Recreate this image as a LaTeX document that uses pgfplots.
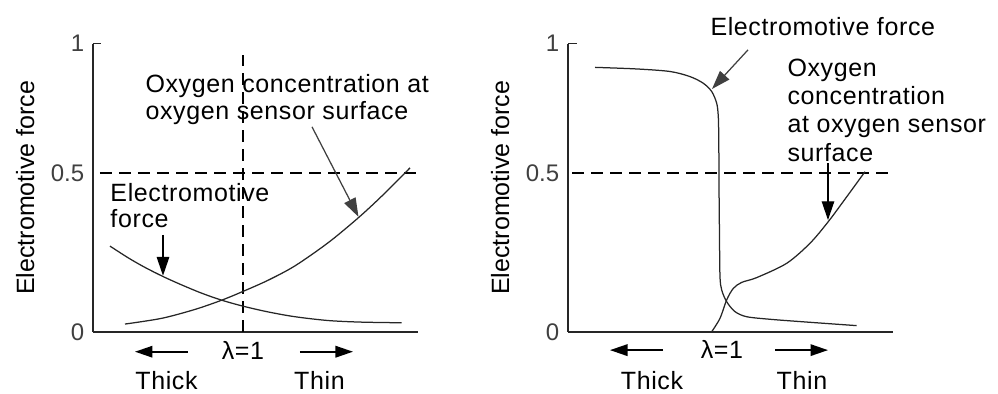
\documentclass[border=0pt]{standalone}
\usepackage{fontspec}
\setmainfont{Liberation Sans}
\usepackage{pgfplots}
\pgfplotsset{compat=1.18}
\usetikzlibrary{arrows.meta}

\newcommand{\txt}{\fontsize{10pt}{12pt}\selectfont\addfontfeature{LetterSpace=2.5}}

\pgfplotsset{
  panel/.style={
    scale only axis, width=130pt, height=115.4pt,
    xmin=0, xmax=325, ymin=0, ymax=0.907,
    axis x line*=bottom, axis y line*=left,
    axis line style={line width=0.5pt, black!85},
    xtick=\empty,
    ytick={0.907}, yticklabels={1},
    extra y ticks={0,0.5}, extra y tick labels={0,0.5},
    extra y tick style={major tick length=0pt},
    tick align=inside, major tick length=3.4pt,
    tick style={line width=0.5pt, black!85},
    clip=false,
    /pgf/number format/assume math mode=true,
    ticklabel style={font=\fontsize{9.6pt}{11pt}\selectfont, text=black!75},
    ylabel={Electromotive force},
    ylabel style={at={(axis description cs:-0.209,0.5)}, anchor=center,
      font=\fontsize{10pt}{12pt}\selectfont},
  },
  curve/.style={line width=0.5pt, black!85, smooth, tension=0.5, mark=none},
  dash/.style={line width=0.5pt, black, dash pattern=on 4.8pt off 2.8pt, mark=none},
}
\tikzset{
  ann/.style={line width=0.5pt, black!75, -{Triangle[length=7.5pt,width=5pt]}},
  dir/.style={line width=0.7pt, black, -{Triangle[length=7pt,width=4.6pt]}},
  lab/.style={anchor=base west, inner sep=0pt, font=\txt},
  cen/.style={anchor=base, inner sep=0pt, font=\txt},
}

\begin{document}
\begin{tikzpicture}
\useasboundingbox (0,0) rectangle (399.2pt,157.6pt);

% ---------------- Left panel ----------------
\begin{axis}[panel, at={(37.2pt,24.8pt)}, anchor=south west]
  % reference dashed lines
  \addplot[dash] coordinates {(7,0.5) (325,0.5)};
  \addplot[dash] coordinates {(150,0) (150,0.871)};
  % electromotive force
  \addplot[curve] coordinates {
    (17,0.270) (35.3,0.233) (52,0.203) (70.3,0.174) (88.7,0.148)
    (108.7,0.122) (128.7,0.100) (150.3,0.081) (175.3,0.063) (202,0.048)
    (235.3,0.036) (268.7,0.031) (308.7,0.029)};
  % oxygen concentration at sensor surface
  \addplot[curve] coordinates {
    (32,0.025) (68.7,0.043) (102,0.071) (128.7,0.100) (150.3,0.128)
    (175.3,0.163) (202,0.208) (235.3,0.281) (265.3,0.359) (288.7,0.427)
    (317,0.516)};
  % annotations
  \node[lab] at (axis cs:52,0.752) {Oxygen\ concentration at};
  \node[lab] at (axis cs:52,0.667) {oxygen sensor surface};
  \draw[ann] (axis cs:219,0.645) -- (axis cs:265.5,0.362);
  \node[lab] at (axis cs:17,0.409) {Electromotive};
  \node[lab] at (axis cs:17,0.327) {force};
  \draw[ann, black] (axis cs:70,0.305) -- (axis cs:70,0.177);
  \node[cen] at (axis cs:150,-0.088) {λ=1};
  \draw[dir] (axis cs:95,-0.062) -- (axis cs:42,-0.062);
  \draw[dir] (axis cs:207,-0.062) -- (axis cs:260,-0.062);
  \node[cen] at (axis cs:73.5,-0.182) {Thick};
  \node[cen] at (axis cs:226.5,-0.182) {Thin};
\end{axis}

% ---------------- Right panel ----------------
\begin{axis}[panel, at={(227.2pt,24.8pt)}, anchor=south west]
  \addplot[dash] coordinates {(4,0.5) (325,0.5)};
  % electromotive force
  \addplot[curve] coordinates {
    (27,0.832) (68.7,0.827) (102,0.819) (122,0.803) (135.3,0.782)
    (143.7,0.756) (148.7,0.719) (150.3,0.677) (150.8,0.600) (151,0.467)
    (151.5,0.300) (152,0.174) (153.7,0.132) (158.7,0.095) (167,0.064)
    (178.7,0.048) (202,0.040) (235.3,0.032) (288.7,0.020)};
  % oxygen concentration at sensor surface
  \addplot[curve] coordinates {
    (143.7,0.001) (152,0.043) (158.7,0.101) (165.3,0.137) (173.7,0.156)
    (188.7,0.171) (218.7,0.216) (242,0.279) (260.3,0.347) (278.7,0.425)
    (297,0.504)};
  % annotations
  \node[lab] at (axis cs:142,0.931) {Electromotive force};
  \draw[ann] (axis cs:180,0.887) -- (axis cs:144,0.764);
  \node[lab] at (axis cs:219,0.802) {Oxygen};
  \node[lab] at (axis cs:219,0.714) {concentration};
  \node[lab] at (axis cs:219,0.626) {at oxygen sensor};
  \node[lab] at (axis cs:219,0.535) {surface};
  \draw[ann, black] (axis cs:260,0.531) -- (axis cs:260,0.352);
  \node[cen] at (axis cs:154,-0.082) {λ=1};
  \draw[dir] (axis cs:95,-0.057) -- (axis cs:42,-0.057);
  \draw[dir] (axis cs:207,-0.057) -- (axis cs:260,-0.057);
  \node[cen] at (axis cs:84,-0.18) {Thick};
  \node[cen] at (axis cs:234,-0.18) {Thin};
\end{axis}
\end{tikzpicture}
\end{document}
